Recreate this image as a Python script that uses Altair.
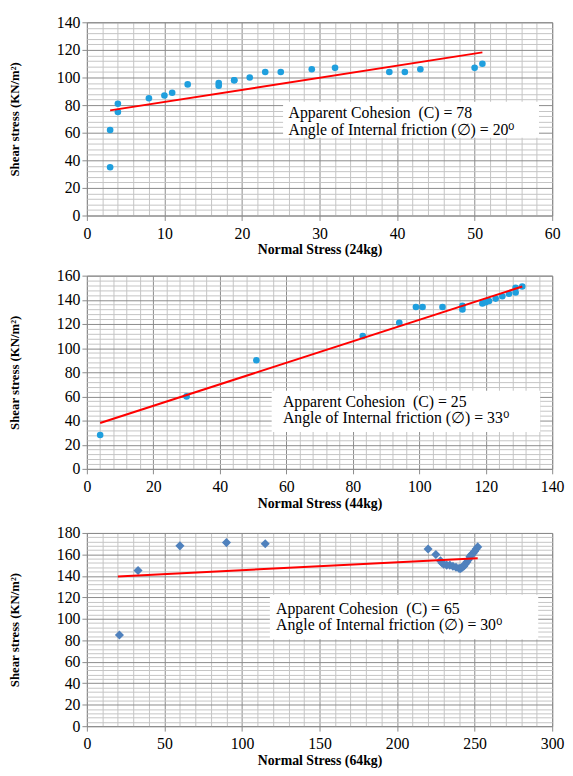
import altair as alt
import pandas as pd

FONT = "Liberation Serif"

# ---- Panel 1: Normal Stress (24kg)
p1_x = [3, 3, 4, 4, 8, 10, 11, 13, 17, 17, 19, 19, 21, 23, 25, 29, 32, 39, 41, 43, 50, 51]
p1_y = [35, 62, 81, 75, 85, 87, 89, 95, 96, 94, 98, 98, 100, 104, 104, 106, 107, 104, 104, 106, 107, 110]
p1_fit_x = [3, 51]
p1_fit_y = [76.2, 118.2]
p1_text = ["Apparent Cohesion\u00a0 (C) = 78", "Angle of Internal friction (\u2205) = 20\u2070"]

# ---- Panel 2: Normal Stress (44kg)
p2_x = [4, 30, 51, 83, 94, 99, 101, 107, 113, 113, 119, 120, 121, 123, 125, 127, 129, 129, 131]
p2_y = [28, 60, 90, 110, 121, 134, 134, 134, 135, 132, 137, 138, 139, 141, 143, 145, 150, 146, 151]
p2_fit_x = [4, 131]
p2_fit_y = [38, 151]
p2_text = ["Apparent Cohesion\u00a0 (C) = 25", "Angle of Internal friction (\u2205) = 33\u2070"]

# ---- Panel 3: Normal Stress (64kg)
p3_x = [21, 33, 60, 90, 115, 220, 225, 228, 229, 230, 232, 234, 236, 238, 240, 241,
        242, 243, 244, 245, 246, 247, 248, 249, 250, 251, 252]
p3_y = [85, 145, 168, 171, 170, 165, 160, 154, 152, 151, 150, 150, 149, 148, 147, 147,
        148, 149, 151, 153, 155, 158, 160, 161, 163, 165, 167]
p3_fit_x = [20, 252]
p3_fit_y = [139.5, 156.5]
p3_text = ["Apparent Cohesion\u00a0 (C) = 65", "Angle of Internal friction (\u2205) = 30\u2070"]

W, H = 472, 196


def major_cond(step, on, off):
    return {"condition": {"test": f"datum.value % {step} === 0", "value": on}, "value": off}


def make_axis(maxv, major, minor, title, is_y):
    return alt.Axis(
        values=list(range(0, maxv + 1, minor)),
        labelExpr=f"datum.value % {major} === 0 ? datum.label : ''",
        gridColor=major_cond(major, "#8a8a8a", "#c4c4c4"),
        gridWidth=1,
        tickOpacity=major_cond(major, 1, 0),
        tickColor="#8a8a8a",
        tickSize=5,
        labelPadding=2 if is_y else 5,
        labelOverlap=False,
        labelFlush=False,
        labelFont=FONT,
        labelFontSize=16,
        labelColor="black",
        domain=False,
        title=title,
        titleFont=FONT,
        titleFontWeight="bold",
        titleFontSize=13 if is_y else 14,
        titleColor="black",
        titlePadding=35 if is_y else 2,
    )


def panel(xs, ys, fx, fy, xmax, xmaj, xmin, ymax, xtitle, shape, color, size,
          box, tx, ty, lines):
    xax = make_axis(xmax, xmaj, xmin, xtitle, False)
    yax = make_axis(ymax, 20, 4, "Shear stress (KN/m\u00b2)", True)
    xsc = alt.Scale(domain=[0, xmax], nice=False, zero=True)
    ysc = alt.Scale(domain=[0, ymax], nice=False, zero=True)

    def X():
        return alt.X("x:Q", scale=xsc, axis=xax)

    def Y():
        return alt.Y("y:Q", scale=ysc, axis=yax)

    df = pd.DataFrame({"x": xs, "y": ys})
    fit = pd.DataFrame({"x": fx, "y": fy})
    boxdf = pd.DataFrame({"x": [box[0]], "x2": [box[1]], "y": [box[2]], "y2": [box[3]]})
    txtdf = pd.DataFrame({"x": [tx, tx], "y": list(ty), "t": lines})

    pts = alt.Chart(df).mark_point(filled=True, shape=shape, size=size, opacity=1,
                                   color=color).encode(x=X(), y=Y())
    line = alt.Chart(fit).mark_line(color="#ff0000", strokeWidth=2).encode(x=X(), y=Y())
    rect = alt.Chart(boxdf).mark_rect(color="white").encode(
        x=X(), x2="x2:Q", y=Y(), y2="y2:Q")
    text = alt.Chart(txtdf).mark_text(
        align="left", baseline="middle", font=FONT, fontSize=16, color="black"
    ).encode(x=X(), y=Y(), text="t:N")
    return alt.layer(pts, line, rect, text).properties(width=W, height=H)


c1 = panel(p1_x, p1_y, p1_fit_x, p1_fit_y, 60, 10, 2, 140, "Normal Stress (24kg)",
           "circle", "#1f9fde", 45, (25.3, 58.3, 82.5, 56.3), 26, (74.2, 61.6), p1_text)
c2 = panel(p2_x, p2_y, p2_fit_x, p2_fit_y, 140, 20, 4, 160, "Normal Stress (44kg)",
           "circle", "#1f9fde", 45, (55.6, 136.4, 64.6, 30.5), 59, (55.6, 42), p2_text)
c3 = panel(p3_x, p3_y, p3_fit_x, p3_fit_y, 300, 50, 10, 180, "Normal Stress (64kg)",
           "diamond", "#4f81bd", 85, (118, 291, 122.4, 81), 122, (109, 94), p3_text)

chart = alt.vconcat(alt.vconcat(c1, c2, spacing=9), c3, spacing=13).properties(
    padding={"left": 0, "top": 0, "right": 0, "bottom": 0}
).configure_view(stroke="#8a8a8a", strokeWidth=1)

chart.save("out.html", embed_options={"renderer": "svg", "actions": False})
